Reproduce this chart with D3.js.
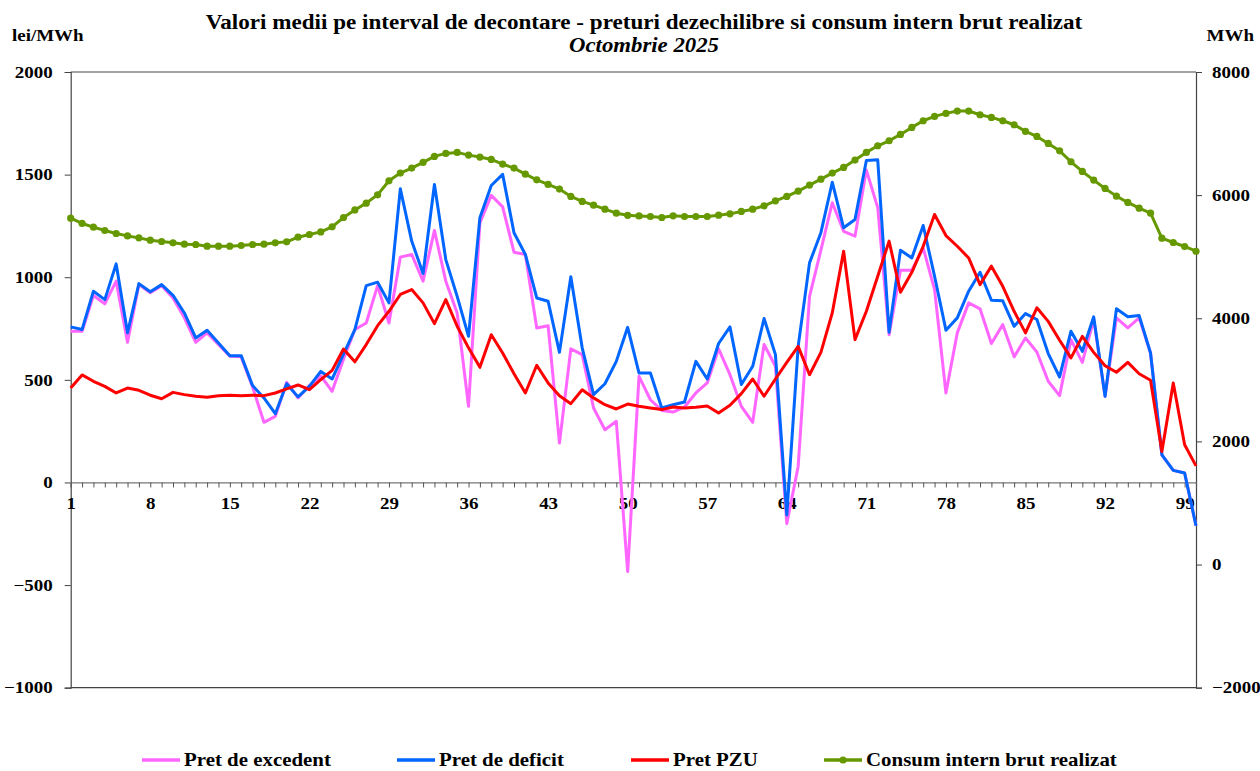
<!DOCTYPE html>
<html>
<head>
<meta charset="utf-8">
<script src="https://cdn.jsdelivr.net/npm/d3@7"></script>
<style>
  html, body { margin: 0; padding: 0; background: #fff; }
  svg { display: block; font-family: "Liberation Serif", "Times New Roman", serif; font-weight: bold; }
</style>
</head>
<body>
<svg id="chart" width="1260" height="771"></svg>
<script>
// ---- data ----
const intervals = d3.range(1, 101);
const xTickLabels = [1, 8, 15, 22, 29, 36, 43, 50, 57, 64, 71, 78, 85, 92, 99];
const leftTicks = [-1000, -500, 0, 500, 1000, 1500, 2000];
const rightTicks = [-2000, 0, 2000, 4000, 6000, 8000];

const pretExcedent = [737,737,911,870,981,683,964,924,959,899,802,683,729,672,615,612,465,293,322,488,
  412,472,520,444,600,745,777,959,777,1098,1111,981,1228,981,826,371,1265,1399,1343,1122,
  1111,753,764,192,651,623,363,257,298,-434,517,403,351,343,368,436,485,651,525,371,
  293,672,566,-201,78,907,1132,1363,1224,1200,1522,1339,720,1034,1034,1143,940,436,729,875,
  846,677,769,612,704,636,493,423,696,585,794,420,802,753,802,631,135,59,46,-211];

const pretDeficit = [758,745,932,891,1065,729,969,929,964,912,826,704,742,680,618,618,472,412,335,481,
  417,468,541,504,625,745,959,976,875,1431,1176,1018,1452,1086,907,712,1290,1447,1501,1217,
  1111,899,883,634,1002,656,428,481,590,756,533,533,363,379,392,590,504,677,758,477,
  566,799,623,-158,663,1070,1217,1463,1241,1281,1569,1572,732,1132,1094,1252,1005,742,802,932,
  1024,888,885,761,823,794,628,514,737,639,807,420,846,807,813,631,135,59,46,-211];

const pretPZU = [460,524,493,468,436,460,449,425,408,439,428,420,415,423,425,423,425,423,436,456,
  475,452,501,546,650,588,672,764,834,916,940,875,774,891,761,656,561,720,631,530,
  436,571,485,423,384,452,412,379,358,382,371,363,355,368,363,366,373,338,376,433,
  504,420,504,585,663,525,634,826,1127,696,834,1005,1176,927,1024,1151,1306,1203,1151,1094,
  964,1054,956,834,729,851,785,693,607,712,634,569,537,585,530,498,151,485,184,81];

const consum = [5626,5540,5480,5426,5377,5338,5306,5268,5247,5225,5203,5198,5171,5171,5171,5182,5198,5203,5225,5241,
  5317,5361,5403,5485,5637,5760,5870,6005,6233,6358,6439,6531,6629,6678,6694,6650,6618,6580,6504,6439,
  6341,6249,6174,6098,5979,5898,5837,5772,5707,5672,5662,5653,5637,5664,5653,5653,5653,5675,5696,5735,
  5772,5826,5907,5979,6065,6163,6260,6358,6450,6569,6694,6802,6883,6986,7100,7208,7279,7328,7366,7366,
  7306,7263,7208,7143,7035,6954,6840,6720,6542,6385,6244,6109,5984,5881,5789,5707,5301,5231,5166,5089];

const seriesNames = ["Pret de excedent", "Pret de deficit", "Pret PZU", "Consum intern brut realizat"];
const seriesColors = ["#ff66ff", "#0066ff", "#ff0000", "#669900"];

// ---- layout ----
const svg = d3.select("#chart");
const plot = { left: 70.7, right: 1196, top: 72, bottom: 687.7 };

const x = d3.scaleLinear().domain([1, 100]).range([plot.left, plot.right]);
const yL = d3.scaleLinear().domain([-1000, 2000]).range([plot.bottom, plot.top]);
const yR = d3.scaleLinear().domain([-2000, 8000]).range([plot.bottom, plot.top]);

// horizontally widen text glyphs (reference text is slightly wide)
function stretch(sel, sx) {
  sel.each(function () {
    const t = d3.select(this);
    const x0 = +t.attr("x") || 0;
    const y0 = +t.attr("y") || 0;
    t.attr("x", 0).attr("y", 0).attr("transform", `translate(${x0},${y0}) scale(${sx},1)`);
  });
}

// frame (top & bottom)
svg.append("line").attr("x1", plot.left).attr("x2", plot.right).attr("y1", plot.top).attr("y2", plot.top)
  .attr("stroke", "#444").attr("stroke-width", 1.2);
svg.append("line").attr("x1", plot.left).attr("x2", plot.right).attr("y1", plot.bottom).attr("y2", plot.bottom)
  .attr("stroke", "#444").attr("stroke-width", 1.2);

// left axis
const gL = svg.append("g").attr("transform", `translate(${plot.left},0)`)
  .call(d3.axisLeft(yL).tickValues(leftTicks).tickSize(6).tickPadding(12).tickFormat(d3.format("d")));
// right axis
const gR = svg.append("g").attr("transform", `translate(${plot.right},0)`)
  .call(d3.axisRight(yR).tickValues(rightTicks).tickSize(6).tickPadding(10).tickFormat(d3.format("d")));
// x axis at zero
const gX = svg.append("g").attr("transform", `translate(0,${yL(0)})`)
  .call(d3.axisBottom(x).tickValues(intervals).tickSize(5).tickPadding(10)
    .tickFormat(d => xTickLabels.includes(d) ? d : ""));

[gL, gR, gX].forEach(g => {
  g.selectAll(".domain").attr("stroke", "#444").attr("stroke-width", 1.2);
  g.selectAll(".tick line").attr("stroke", "#444").attr("stroke-width", 1);
  g.selectAll("text").attr("font-family", "Liberation Serif, serif").attr("font-weight", "bold")
    .attr("font-size", 16.5).attr("fill", "#000");
  stretch(g.selectAll("text"), 1.15);
});
gX.selectAll(".domain").attr("stroke", "#777");
gX.selectAll(".tick line").attr("stroke", "#555");

// lines
const mk = (scale, arr) => d3.line().x((d, i) => x(intervals[i])).y(d => scale(d))(arr);
const priceSeries = [pretExcedent, pretDeficit, pretPZU];
priceSeries.forEach((arr, k) => {
  svg.append("path").attr("d", mk(yL, arr)).attr("fill", "none")
    .attr("stroke", seriesColors[k]).attr("stroke-width", 3).attr("stroke-linejoin", "round");
});
svg.append("path").attr("d", mk(yR, consum)).attr("fill", "none")
  .attr("stroke", seriesColors[3]).attr("stroke-width", 3).attr("stroke-linejoin", "round");
svg.append("g").selectAll("circle").data(consum).join("circle")
  .attr("cx", (d, i) => x(intervals[i])).attr("cy", d => yR(d)).attr("r", 3.6)
  .attr("fill", seriesColors[3]);

// titles
const t1 = svg.append("text").attr("x", 644).attr("y", 29).attr("text-anchor", "middle")
  .attr("font-size", 21).text("Valori medii pe interval de decontare - preturi dezechilibre si consum intern brut realizat");
const t2 = svg.append("text").attr("x", 644).attr("y", 52).attr("text-anchor", "middle")
  .attr("font-size", 20).attr("font-style", "italic").text("Octombrie 2025");
stretch(t1, 1.10);
stretch(t2, 1.14);
const u1 = svg.append("text").attr("x", 12).attr("y", 41).attr("font-size", 16.5).text("lei/MWh");
const u2 = svg.append("text").attr("x", 1254).attr("y", 41).attr("text-anchor", "end").attr("font-size", 16.5).text("MWh");
stretch(u1, 1.15);
stretch(u2, 1.15);

// legend
const legendX = [142, 397, 631, 824];
const leg = svg.append("g").attr("transform", "translate(0,760)");
seriesNames.forEach((name, k) => {
  const g = leg.append("g").attr("transform", `translate(${legendX[k]},0)`);
  g.append("line").attr("x1", 0).attr("x2", 38).attr("y1", 0).attr("y2", 0)
    .attr("stroke", seriesColors[k]).attr("stroke-width", 3.5);
  if (k === 3) g.append("circle").attr("cx", 19).attr("cy", 0).attr("r", 3.6).attr("fill", seriesColors[k]);
  const tx = g.append("text").attr("x", 42).attr("y", 6).attr("font-size", 18.5).text(name);
  stretch(tx, 1.13);
});
</script>
</body>
</html>
